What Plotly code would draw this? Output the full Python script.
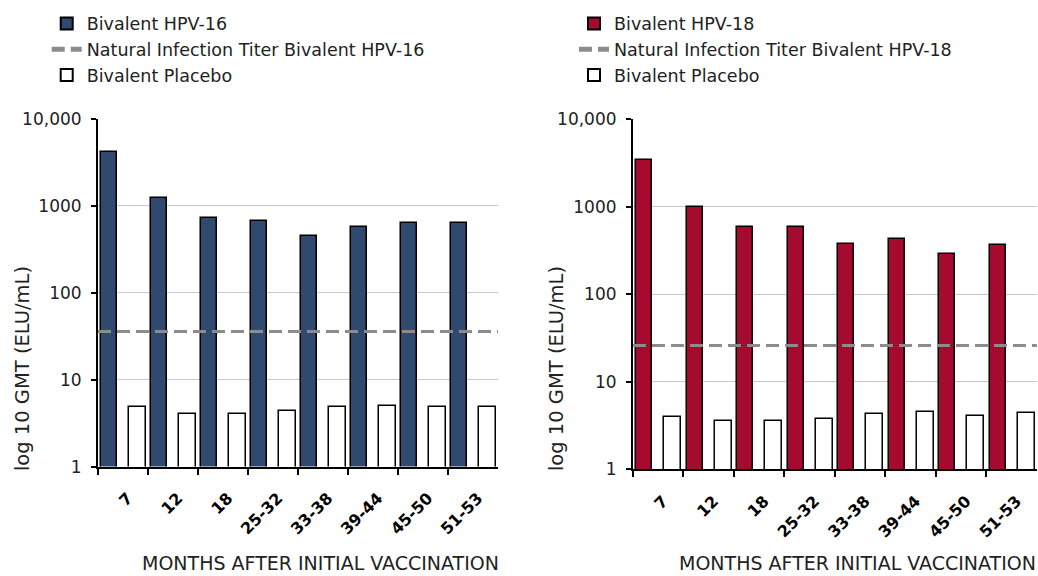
import plotly.graph_objects as go

# Time points (months after initial vaccination)
months = ["7", "12", "18", "25-32", "33-38", "39-44", "45-50", "51-53"]

# Geometric mean titers (ELU/mL)
hpv16_vaccine = [4150, 1240, 720, 670, 456, 570, 630, 630]
hpv16_placebo = [4.8, 4.0, 4.0, 4.3, 4.8, 5.0, 4.8, 4.8]
hpv16_natural = 36

hpv18_vaccine = [3380, 1000, 585, 585, 375, 425, 290, 365]
hpv18_placebo = [4.0, 3.55, 3.55, 3.75, 4.3, 4.5, 4.08, 4.4]
hpv18_natural = 26

BLUE = "#2f4a6e"
RED = "#a50a2f"
GREY = "#8c8c8c"
TEXT = "#222222"
FONT = "DejaVu Sans"

fig = go.Figure()


def add_panel(xa, xline, ya, legend, vaccine, placebo, natural, colour, label):
    fig.add_trace(go.Bar(
        x=months, y=vaccine, xaxis=xa, yaxis=ya, legend=legend,
        name=f"Bivalent {label}",
        marker=dict(color=colour, line=dict(color="black", width=1.5)),
        width=0.32, offset=-0.44,
    ))
    # the reference titer runs across the whole panel, so it lives on a hidden linear axis
    fig.add_trace(go.Scatter(
        x=[-0.5, len(months) - 0.5], y=[natural, natural], xaxis=xline, yaxis=ya,
        legend=legend, mode="lines", name=f"Natural Infection Titer Bivalent {label}",
        line=dict(color=GREY, width=3, dash="13px,6px"),
    ))
    fig.add_trace(go.Bar(
        x=months, y=placebo, xaxis=xa, yaxis=ya, legend=legend,
        name="Bivalent Placebo",
        marker=dict(color="white", line=dict(color="black", width=1.5)),
        width=0.34, offset=0.12,
    ))


add_panel("x", "x3", "y", "legend", hpv16_vaccine, hpv16_placebo, hpv16_natural, BLUE, "HPV-16")
add_panel("x2", "x4", "y2", "legend2", hpv18_vaccine, hpv18_placebo, hpv18_natural, RED, "HPV-18")

xaxis_common = dict(
    type="category", categoryorder="array", categoryarray=months,
    tickson="boundaries", ticks="outside", ticklen=6, tickwidth=2, tickcolor="black",
    showline=True, linecolor="black", linewidth=2, showgrid=False,
    tickangle=-45, tickfont=dict(family=FONT, size=16, color="black", weight="bold"),
    ticklabelstandoff=14, ticklabelshift=5,
    range=[-0.5, len(months) - 0.5], fixedrange=True,
)
line_axis = dict(type="linear", range=[-0.5, len(months) - 0.5], visible=False, fixedrange=True)
yaxis_common = dict(
    type="log", range=[0, 4], tickvals=[1, 10, 100, 1000, 10000],
    ticktext=["1", "10", "100", "1000", "10,000"],
    ticks="outside", ticklen=5, tickwidth=2, tickcolor="black",
    showline=True, linecolor="black", linewidth=2, ticklabelstandoff=6,
    showgrid=True, gridcolor="#c8c8c8", gridwidth=1,
    tickfont=dict(family=FONT, size=17, color=TEXT), zeroline=False,
)

left_dom = [0.0944, 0.4798]
right_dom = [0.6098, 0.999]
legend_style = dict(yanchor="top", xanchor="left", bgcolor="rgba(0,0,0,0)",
                    font=dict(family=FONT, size=17.5, color=TEXT), tracegroupgap=0,
                    itemsizing="constant", itemwidth=30)

ytitle = dict(text="log 10 GMT (ELU/mL)", xref="paper", yref="paper", textangle=-90,
              showarrow=False, xanchor="center", yanchor="middle",
              font=dict(family=FONT, size=19.5, color=TEXT))
xtitle = dict(text="MONTHS AFTER INITIAL VACCINATION", xref="paper", yref="paper",
              showarrow=False, xanchor="center", yanchor="middle",
              font=dict(family=FONT, size=19, color=TEXT))

fig.update_layout(
    width=1038, height=576, margin=dict(l=0, r=0, t=0, b=0),
    paper_bgcolor="white", plot_bgcolor="white",
    barmode="overlay", bargap=0,
    font=dict(family=FONT, size=16, color=TEXT),
    xaxis=dict(domain=left_dom, anchor="y", **xaxis_common),
    yaxis=dict(domain=[0.1788, 0.8038], anchor="x", **yaxis_common),
    xaxis2=dict(domain=right_dom, anchor="y2", **xaxis_common),
    yaxis2=dict(domain=[0.1736, 0.8038], anchor="x2", **yaxis_common),
    xaxis3=dict(domain=left_dom, anchor="y", overlaying="x", **line_axis),
    xaxis4=dict(domain=right_dom, anchor="y2", overlaying="x2", **line_axis),
    legend=dict(x=0.045, y=1.008, **legend_style),
    legend2=dict(x=0.553, y=1.008, **legend_style),
    annotations=[
        dict(x=22 / 1038, y=1 - 372 / 576, **ytitle),
        dict(x=556 / 1038, y=1 - 372 / 576, **ytitle),
        dict(x=320 / 1038, y=1 - 573 / 576, **xtitle),
        dict(x=857 / 1038, y=1 - 573 / 576, **xtitle),
    ],
)

fig.write_html("out.html")
